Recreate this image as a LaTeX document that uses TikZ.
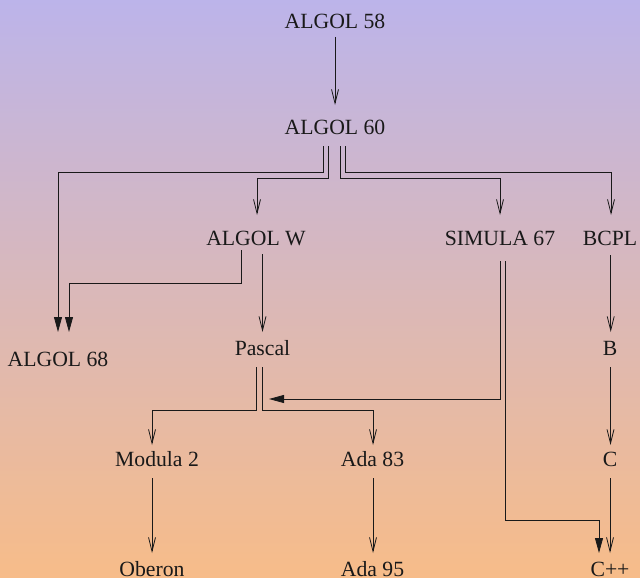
\documentclass[tikz,border=0pt]{standalone}
\usepackage{fontspec}
\setmainfont{Liberation Serif}
\usetikzlibrary{arrows.meta}
\definecolor{bgtop}{RGB}{188,180,234}
\definecolor{bgbot}{RGB}{247,188,137}
\definecolor{ink}{RGB}{25,25,25}
\begin{document}
\begin{tikzpicture}[x=1pt,y=-1pt,
  lab/.style={inner sep=0pt,anchor=base,font=\fontsize{21.7}{26}\selectfont,text=ink},
  open/.style={draw=ink,line width=0.8pt,-{Straight Barb[length=14pt,width=7pt]}},
  fil/.style={draw=ink,line width=0.8pt,-{Triangle[length=15pt,width=8pt]}}]
\useasboundingbox (0,0) rectangle (640,578);
\shade[top color=bgtop,bottom color=bgbot] (0,0) rectangle (640,578);
% nodes
\node[lab] (a58) at (335,29) {ALGOL 58};
\node[lab] (a60) at (335,134) {ALGOL 60};
\node[lab] (aw) at (256,245) {ALGOL W};
\node[lab] (sim) at (500,245) {SIMULA 67};
\node[lab] (bcpl) at (610,245) {BCPL};
\node[lab] (a68) at (58,366) {ALGOL 68};
\node[lab] (pas) at (262.5,355) {Pascal};
\node[lab] (b) at (610,355) {B};
\node[lab] (mod) at (157,466) {Modula 2};
\node[lab] (ada83) at (372.5,466) {Ada 83};
\node[lab] (c) at (610,466) {C};
\node[lab] (ober) at (152,576) {Oberon};
\node[lab] (ada95) at (372.5,576) {Ada 95};
\node[lab] (cpp) at (610,576) {C++};
% connectors
\draw[open] ([shift={(0,8)}]a58.base) -- ([shift={(0,-29)}]a60.base);
\draw[fil] ([shift={(-11.7,12)}]a60.base) -- ++(0,26) -| ([shift={(0,-34)}]a68.base);
\draw[open] ([shift={(-6.7,12)}]a60.base) -- ++(0,32) -| ([shift={(1,-30)}]aw.base);
\draw[open] ([shift={(5,12)}]a60.base) -- ++(0,32) -| ([shift={(0,-30)}]sim.base);
\draw[open] ([shift={(10,12)}]a60.base) -- ++(0,26) -| ([shift={(1,-30)}]bcpl.base);
\draw[fil] ([shift={(-15,5)}]aw.base) -- ++(0,33) -| ([shift={(11,-34)}]a68.base);
\draw[open] ([shift={(6.5,9)}]aw.base) -- ([shift={(0,-23)}]pas.base);
\draw[open] ([shift={(-5.8,12)}]pas.base) -- ++(0,43) -| ([shift={(-5,-21)}]mod.base);
\draw[open] ([shift={(0,12)}]pas.base) -- ++(0,43) -| ([shift={(0.5,-21)}]ada83.base);
\draw[fil] ([shift={(0,16)}]sim.base) |- ([shift={(6.5,44)}]pas.base);
\draw[fil] ([shift={(5.5,16)}]sim.base) -- ++(0,259.7) -| ([shift={(-11,-23)}]cpp.base);
\draw[open] ([shift={(0.7,10)}]bcpl.base) -- ([shift={(0.7,-23)}]b.base);
\draw[open] ([shift={(0.5,12)}]b.base) -- ([shift={(0.5,-21)}]c.base);
\draw[open] ([shift={(0,12)}]c.base) -- ([shift={(0,-23)}]cpp.base);
\draw[open] ([shift={(-5,12)}]mod.base) -- ([shift={(0,-23)}]ober.base);
\draw[open] ([shift={(0.5,12)}]ada83.base) -- ([shift={(0.5,-23)}]ada95.base);
\end{tikzpicture}
\end{document}
